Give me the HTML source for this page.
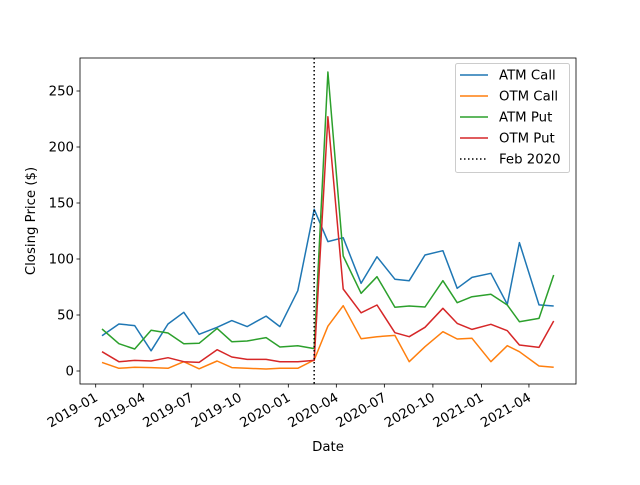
<!DOCTYPE html>
<html><head><meta charset="utf-8"><style>
body{margin:0;background:#fff}
svg text{font-family:"DejaVu Sans","Liberation Sans",sans-serif;font-size:13.3px;fill:#000}
</style></head><body>
<svg id="chart" width="640" height="480" xmlns="http://www.w3.org/2000/svg">
<rect x="0" y="0" width="640" height="480" fill="#fff"/>
<g id="plot"></g>
</svg>
<script>
const dates=["2019-01-13","2019-02-14","2019-03-16","2019-04-16","2019-05-18","2019-06-17","2019-07-16","2019-08-19","2019-09-16","2019-10-15","2019-11-20","2019-12-16","2020-01-19","2020-02-19","2020-03-16","2020-04-14","2020-05-18","2020-06-17","2020-07-21","2020-08-17","2020-09-16","2020-10-20","2020-11-16","2020-12-14","2021-01-19","2021-02-19","2021-03-14","2021-04-20","2021-05-18"];
const atmCall=[31.5,42,40.5,18,42,52.4,32.8,39,45,39.6,49,39.6,71.7,144.4,115.5,119,78.3,102,82,80.6,103.6,107.4,73.8,83.6,87.2,59.5,114.6,59,58];
const otmCall=[7.7,2.4,3.3,3,2.4,8.3,2,8.9,3,2.4,1.8,2.4,2.4,9.8,40,58.3,28.8,30.6,31.8,8.3,21.7,35.1,28.6,29.2,8.3,22.6,17.2,4.5,3.3];
const atmPut=[37.5,24.4,19.6,36.3,33.9,24.4,24.7,38,26.2,26.8,29.8,21.4,22.6,20,267,102.7,69.4,84.2,56.9,58,57.1,80.6,61,66.3,68.5,58.9,44,47,85.7];
const otmPut=[17.2,8.3,9.5,8.9,11.9,8.3,7.7,19,12.5,10.4,10.4,8.3,8.3,9.5,227,73.2,52,58.9,34.2,30.6,39,56,42.5,37.1,41.7,36,23.2,21.1,44.6];
const seriesNames=["ATM Call","OTM Call","ATM Put","OTM Put"];
const seriesColors=["#1f77b4","#ff7f0e","#2ca02c","#d62728"];
const eventDate="2020-02-19";
const eventLabel="Feb 2020";
const xTicks=["2019-01","2019-04","2019-07","2019-10","2020-01","2020-04","2020-07","2020-10","2021-01","2021-04"];
const yTicks=[0,50,100,150,200,250];

const NS="http://www.w3.org/2000/svg";
const g=document.getElementById('plot');
const L=80,R=576,T=58,B=384;
const t0=Date.UTC(2019,0,1);
function day(s){const p=s.split('-').map(Number);return (Date.UTC(p[0],p[1]-1,p[2]||1)-t0)/86400000;}
function xs(s){return 95.7+day(s)*0.5277;}
function ys(v){return 371-v*1.12;}
function el(tag,attrs,parent){const e=document.createElementNS(NS,tag);for(const k in attrs)e.setAttribute(k,attrs[k]);(parent||g).appendChild(e);return e;}

[atmCall,otmCall,atmPut,otmPut].forEach((arr,si)=>{
  const pts=arr.map((v,i)=>xs(dates[i]).toFixed(1)+','+ys(v).toFixed(1)).join(' ');
  const pl=el('polyline',{points:pts,fill:'none',stroke:seriesColors[si],'stroke-width':1.5,'stroke-linejoin':'round'});
  
  
});
const ex=xs(eventDate);
const vl=el('line',{x1:ex,x2:ex,y1:T,y2:B,stroke:'#000','stroke-width':1.5,'stroke-dasharray':'1.5,2.5'});



const frame=el('rect',{x:L,y:T,width:R-L,height:B-T,fill:'none',stroke:'#000','stroke-width':0.8});



yTicks.forEach(v=>{
  const y=ys(v);
  el('line',{x1:L-3.5,x2:L,y1:y,y2:y,stroke:'#000','stroke-width':0.8});
  const t=el('text',{x:L-6,y:y+4.5,'text-anchor':'end'});t.textContent=v;
  
  
});
xTicks.forEach(s=>{
  const x=xs(s);
  el('line',{x1:x,x2:x,y1:B,y2:B+3.5,stroke:'#000','stroke-width':0.8});
  const tx=x+3,ty=B+16;
  const t=el('text',{x:tx,y:ty,'text-anchor':'end',transform:`rotate(-30 ${tx} ${ty})`});t.textContent=s;
  
  
});
const xl=el('text',{x:328,y:451,'text-anchor':'middle'});xl.textContent='Date';


const yl=el('text',{x:35,y:221,'text-anchor':'middle',transform:'rotate(-90 35 221)'});yl.textContent='Closing Price ($)';



const lg=el('g',{});


el('rect',{x:455.5,y:63.5,width:114,height:109,rx:2,fill:'#fff','fill-opacity':0.8,stroke:'#ccc'},lg);
const labels=seriesNames.concat([eventLabel]);
labels.forEach((n,i)=>{
  const y=75+i*21;
  const ln=el('line',{x1:460,x2:488,y1:y,y2:y,stroke:i<4?seriesColors[i]:'#000','stroke-width':1.5},lg);
  if(i===4)ln.setAttribute('stroke-dasharray','1.5,2.5');
  const t=el('text',{x:499,y:y+4.5},lg);t.textContent=n;
  
  
});
</script>
</body></html>
